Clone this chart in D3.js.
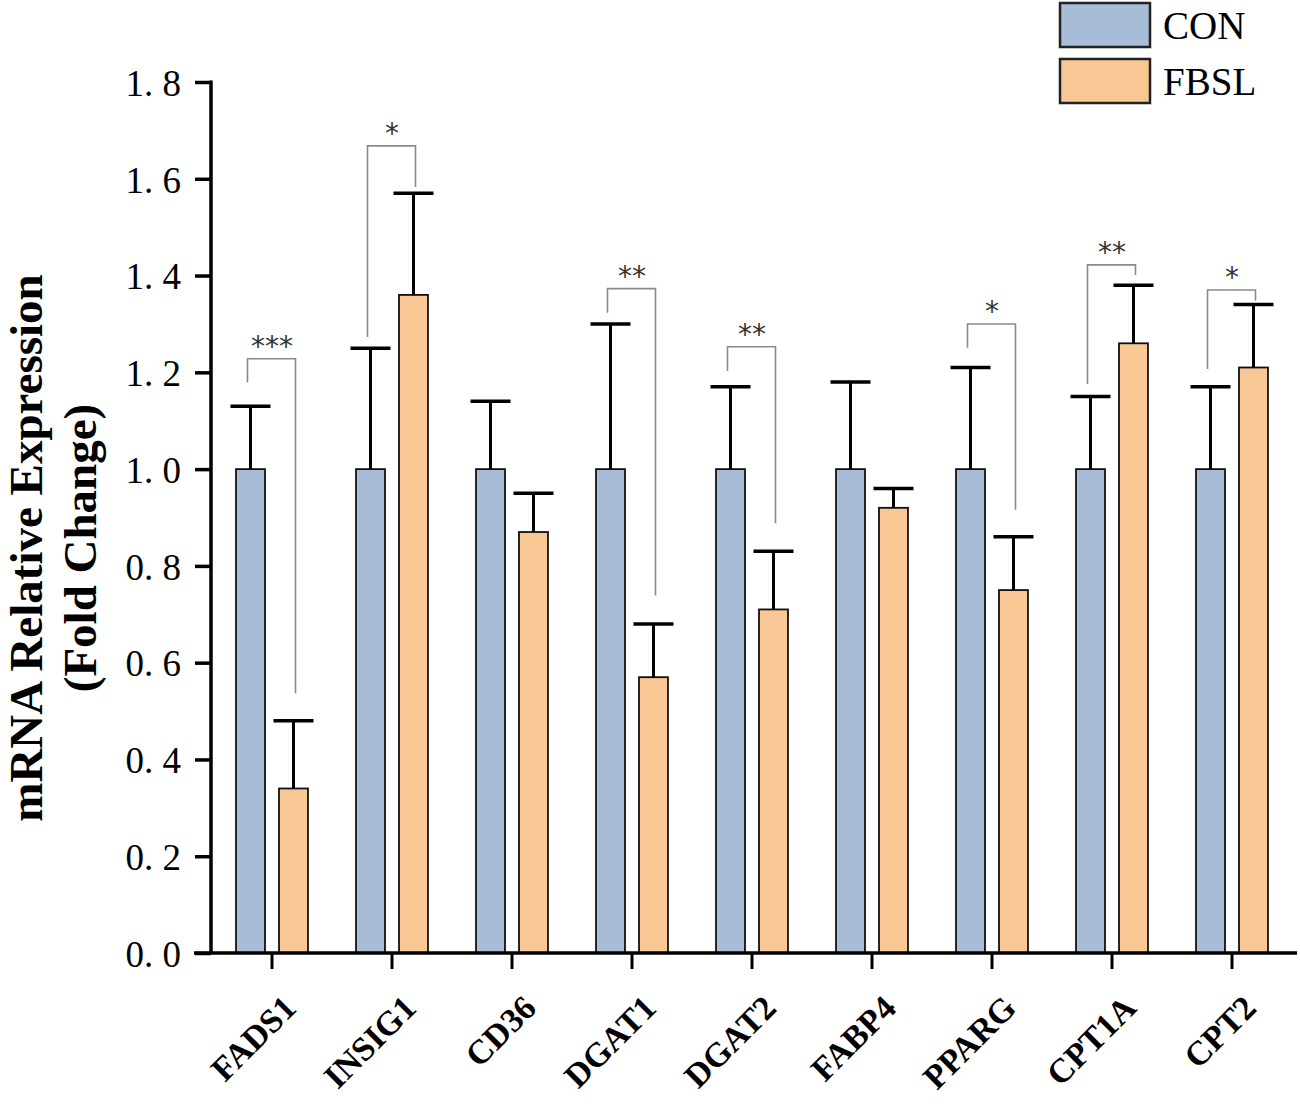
<!DOCTYPE html>
<html>
<head>
<meta charset="utf-8">
<script src="https://cdn.jsdelivr.net/npm/d3@7"></script>
<style>
  body { margin: 0; background: #fff; }
</style>
</head>
<body>
<svg id="chart"></svg>
<script>
"use strict";

// genes on the x axis
const genes = ["FADS1", "INSIG1", "CD36", "DGAT1", "DGAT2", "FABP4", "PPARG", "CPT1A", "CPT2"];
const groups = ["CON", "FBSL"];

// mean fold change and top of error bar
const conMean = [1.0, 1.0, 1.0, 1.0, 1.0, 1.0, 1.0, 1.0, 1.0];
const conErr  = [1.13, 1.25, 1.14, 1.30, 1.17, 1.18, 1.21, 1.15, 1.17];
const fbslMean = [0.34, 1.36, 0.87, 0.57, 0.71, 0.92, 0.75, 1.26, 1.21];
const fbslErr  = [0.48, 1.57, 0.95, 0.68, 0.83, 0.96, 0.86, 1.38, 1.34];

// significance brackets: gene, label, top, left leg end, right leg end
const sigGene  = ["FADS1", "INSIG1", "DGAT1", "DGAT2", "PPARG", "CPT1A", "CPT2"];
const sigLabel = ["***", "*", "**", "**", "*", "**", "*"];
const sigTop   = [1.228, 1.668, 1.373, 1.253, 1.300, 1.422, 1.370];
const sigLeft  = [1.179, 1.273, 1.323, 1.203, 1.251, 1.176, 1.207];
const sigRight = [0.537, 1.583, 0.739, 0.888, 0.916, 1.401, 1.348];

const yTickValues = [0, 0.2, 0.4, 0.6, 0.8, 1.0, 1.2, 1.4, 1.6, 1.8];

const colors = { CON: "#a7bdd7", FBSL: "#f8c793" };

const width = 1300;
const height = 1104;

const svg = d3.select("#chart")
    .attr("width", width)
    .attr("height", height)
    .attr("viewBox", [0, 0, width, height]);

const x = d3.scaleBand()
    .domain(genes)
    .range([212, 1292]);

const x1 = d3.scaleBand()
    .domain(groups)
    .range([-50, 50])
    .padding(0.326);

const y = d3.scaleLinear()
    .domain([0, 1.8])
    .range([953, 82]);

const cx = g => x(g) + x.bandwidth() / 2;

// bar table
const bars = [];
genes.forEach((g, i) => {
    bars.push({ gene: g, group: "CON", mean: conMean[i], err: conErr[i] });
    bars.push({ gene: g, group: "FBSL", mean: fbslMean[i], err: fbslErr[i] });
});

// bars
svg.append("g")
    .selectAll("rect")
    .data(bars)
    .join("rect")
    .attr("x", d => cx(d.gene) + x1(d.group))
    .attr("width", x1.bandwidth())
    .attr("y", d => y(d.mean))
    .attr("height", d => y(0) - y(d.mean))
    .attr("fill", d => colors[d.group])
    .attr("stroke", "#111")
    .attr("stroke-width", 1.8);

// error bars
const eb = svg.append("g")
    .attr("stroke", "#000")
    .selectAll("g")
    .data(bars)
    .join("g")
    .attr("transform", d => `translate(${cx(d.gene) + x1(d.group) + x1.bandwidth() / 2},0)`);

eb.append("line")
    .attr("y1", d => y(d.mean))
    .attr("y2", d => y(d.err))
    .attr("stroke-width", 3);

eb.append("line")
    .attr("x1", -20)
    .attr("x2", 20)
    .attr("y1", d => y(d.err))
    .attr("y2", d => y(d.err))
    .attr("stroke-width", 3.5);

// significance brackets
const sig = sigGene.map((g, i) => ({
    gene: g, label: sigLabel[i], top: sigTop[i], left: sigLeft[i], right: sigRight[i]
}));

const sg = svg.append("g")
    .selectAll("g")
    .data(sig)
    .join("g")
    .attr("transform", d => `translate(${cx(d.gene)},0)`);

sg.append("path")
    .attr("fill", "none")
    .attr("stroke", "#8a8a8a")
    .attr("stroke-width", 1.6)
    .attr("d", d => {
        const xl = x1("CON") + x1.bandwidth() / 2 - 3;
        const xr = x1("FBSL") + x1.bandwidth() / 2 + 2;
        return `M${xl},${y(d.left)}V${y(d.top)}H${xr}V${y(d.right)}`;
    });

sg.append("text")
    .attr("x", 0)
    .attr("y", d => y(d.top) - 3)
    .attr("text-anchor", "middle")
    .attr("font-family", "DejaVu Sans, sans-serif")
    .attr("font-size", 28)
    .attr("fill", "#333")
    .text(d => d.label);

// y axis
const yAxis = svg.append("g")
    .attr("transform", `translate(${x.range()[0] - 1},0)`)
    .call(d3.axisLeft(y).tickValues(yTickValues).tickSize(16).tickSizeOuter(0)
        .tickFormat(d => d3.format(".1f")(d).replace(".", ". ")));

yAxis.select(".domain")
    .attr("stroke-width", 3.5)
    .attr("d", `M0,${y(0)}V${y(1.8) - 1.5}`);

yAxis.selectAll(".tick line")
    .attr("stroke-width", 3.5);

yAxis.selectAll(".tick text")
    .attr("x", -30)
    .attr("dy", "0.36em")
    .attr("font-family", "Liberation Serif, Times New Roman, serif")
    .attr("font-size", 37)
    .attr("fill", "#000");

// x axis
const xAxis = svg.append("g")
    .attr("transform", `translate(0,${y(0)})`)
    .call(d3.axisBottom(x).tickSize(16).tickSizeOuter(0));

xAxis.select(".domain")
    .attr("stroke-width", 3.5)
    .attr("d", `M${x.range()[0] - 18},0H${x.range()[1] + 5}`);

xAxis.selectAll(".tick line")
    .attr("stroke-width", 3);

xAxis.selectAll(".tick text")
    .attr("y", 0)
    .attr("dy", 0)
    .attr("transform", "translate(26,57) rotate(-45)")
    .attr("text-anchor", "end")
    .attr("font-family", "Liberation Serif, Times New Roman, serif")
    .attr("font-weight", "bold")
    .attr("font-size", 34)
    .attr("fill", "#000");

// y axis title
const title = svg.append("text")
    .attr("transform", "translate(0,548) rotate(-90)")
    .attr("text-anchor", "middle")
    .attr("font-family", "Liberation Serif, Times New Roman, serif")
    .attr("font-weight", "bold")
    .attr("font-size", 47)
    .attr("fill", "#000");

title.append("tspan")
    .attr("x", 0)
    .attr("y", 42)
    .text("mRNA Relative Expression");

title.append("tspan")
    .attr("x", 0)
    .attr("y", 96)
    .text("(Fold Change)");

// legend
const legend = svg.append("g")
    .selectAll("g")
    .data(groups)
    .join("g")
    .attr("transform", (d, i) => `translate(1060,${3 + i * 56})`);

legend.append("rect")
    .attr("width", 90)
    .attr("height", 44)
    .attr("fill", d => colors[d])
    .attr("stroke", "#222")
    .attr("stroke-width", 2.5);

legend.append("text")
    .attr("x", 103)
    .attr("y", 36)
    .attr("font-family", "Liberation Serif, Times New Roman, serif")
    .attr("font-size", 39)
    .attr("fill", "#000")
    .text(d => d);
</script>
</body>
</html>
